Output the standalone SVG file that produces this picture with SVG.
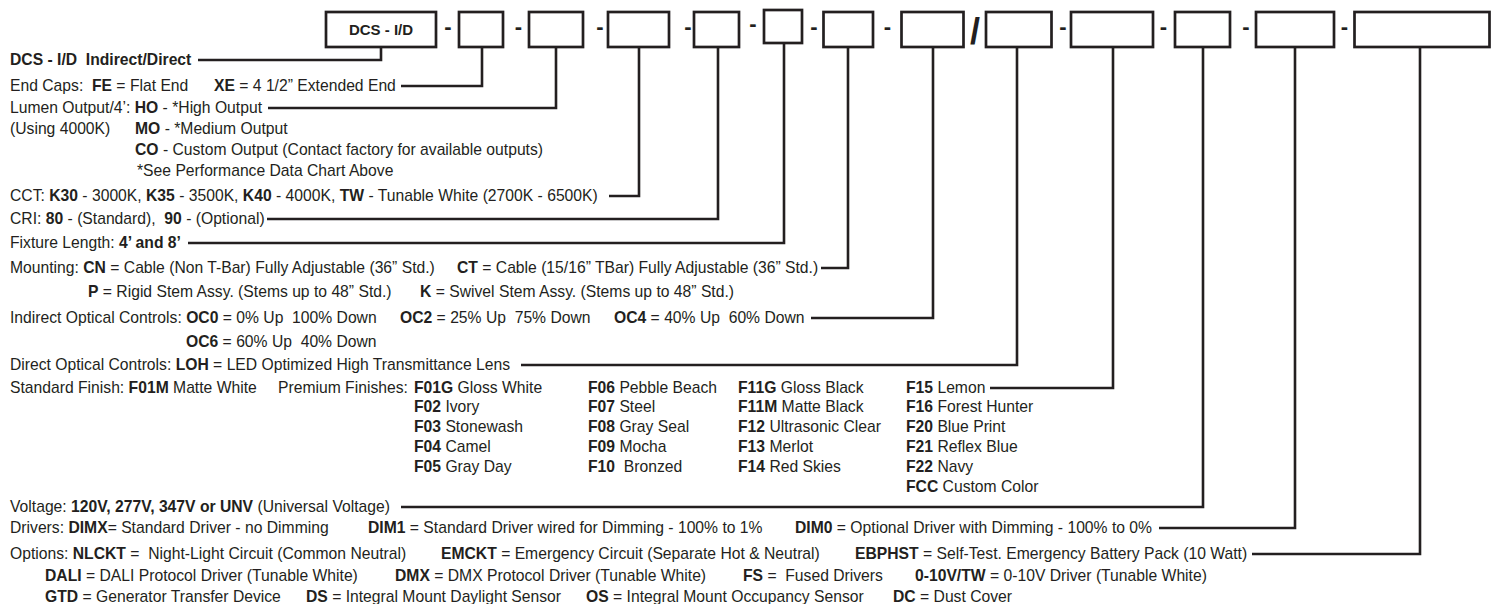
<svg xmlns="http://www.w3.org/2000/svg" width="1495" height="604" viewBox="0 0 1495 604">
<style>
text{font-family:"Liberation Sans",Arial,Helvetica,sans-serif;font-size:15.7px;fill:#231f20;white-space:pre}
.b{font-weight:bold}
.box{fill:#fff;stroke:#231f20;stroke-width:2.7}
.c{fill:none;stroke:#231f20;stroke-width:2.6}
.sep{font-family:"Liberation Sans",Arial,sans-serif;font-weight:bold;font-size:22px;text-anchor:middle}
.lbl{font-weight:bold;font-size:15px;text-anchor:middle}
</style>
<rect width="1495" height="604" fill="#fff"/>
<g id="code-boxes">
<g id="box1"><rect class="box" x="326" y="12" width="110" height="35"/><text class="lbl" x="381" y="34.5">DCS - I/D</text></g>
<g id="box2"><rect class="box" x="459" y="12" width="44" height="35"/></g>
<g id="box3"><rect class="box" x="529" y="12" width="54" height="35"/></g>
<g id="box4"><rect class="box" x="608" y="12" width="61" height="35"/></g>
<g id="box5"><rect class="box" x="694" y="12" width="45" height="35"/></g>
<g id="box6"><rect class="box" x="764" y="10" width="38" height="33"/></g>
<g id="box7"><rect class="box" x="823.5" y="12" width="49.5" height="35"/></g>
<g id="box8"><rect class="box" x="901.5" y="12" width="62" height="35"/></g>
<g id="box9"><rect class="box" x="986" y="12" width="65.5" height="35"/></g>
<g id="box10"><rect class="box" x="1071" y="12" width="82" height="35"/></g>
<g id="box11"><rect class="box" x="1175" y="12" width="55" height="35"/></g>
<g id="box12"><rect class="box" x="1256" y="12" width="78" height="35"/></g>
<g id="box13"><rect class="box" x="1354.5" y="12" width="135" height="35"/></g>
</g>
<g id="separators">
<text class="sep" x="448" y="34">-</text>
<text class="sep" x="518.5" y="34">-</text>
<text class="sep" x="600" y="34">-</text>
<text class="sep" x="688" y="34">-</text>
<text class="sep" x="753" y="31">-</text>
<text class="sep" x="814" y="34">-</text>
<text class="sep" x="887.5" y="34">-</text>
<text class="sep" x="975" y="44" style="font-size:36px">/</text>
<text class="sep" x="1063" y="34">-</text>
<text class="sep" x="1163.5" y="34">-</text>
<text class="sep" x="1246" y="34">-</text>
<text class="sep" x="1344.5" y="34">-</text>
</g>
<g id="connectors">
<polyline class="c" points="198,60 381,60 381,47"/>
<polyline class="c" points="401,86 482,86 482,47"/>
<polyline class="c" points="268,108 556,108 556,47"/>
<polyline class="c" points="609,196 639,196 639,47"/>
<polyline class="c" points="267,219 718,219 718,47"/>
<polyline class="c" points="188,243 784,243 784,43"/>
<polyline class="c" points="821,268 848,268 848,47"/>
<polyline class="c" points="811,318 933,318 933,47"/>
<polyline class="c" points="521,365 1017,365 1017,47"/>
<polyline class="c" points="990,388 1113,388 1113,47"/>
<polyline class="c" points="401,507 1203,507 1203,47"/>
<polyline class="c" points="1159,528 1295,528 1295,47"/>
<polyline class="c" points="1252,554 1420,554 1420,47"/>
</g>
<g id="legend-series"><text class="b" x="10" y="65">DCS - I/D  Indirect/Direct</text></g>
<g id="legend-endcaps"><text x="10" y="91">End Caps:  <tspan class="b">FE</tspan> = Flat End</text><text x="214" y="91"><tspan class="b">XE</tspan> = 4 1/2” Extended End</text></g>
<g id="legend-lumen">
<text x="10" y="113">Lumen Output/4’: <tspan class="b">HO</tspan> - *High Output</text>
<text x="10" y="134">(Using 4000K)</text>
<text x="135" y="134"><tspan class="b">MO</tspan> - *Medium Output</text>
<text x="135" y="155"><tspan class="b">CO</tspan> - Custom Output (Contact factory for available outputs)</text>
<text x="137" y="176">*See Performance Data Chart Above</text>
</g>
<g id="legend-cct"><text x="10" y="201">CCT: <tspan class="b">K30</tspan> - 3000K, <tspan class="b">K35</tspan> - 3500K, <tspan class="b">K40</tspan> - 4000K, <tspan class="b">TW</tspan> - Tunable White (2700K - 6500K)</text></g>
<g id="legend-cri"><text x="10" y="224">CRI: <tspan class="b">80</tspan> - (Standard),  <tspan class="b">90</tspan> - (Optional)</text></g>
<g id="legend-length"><text x="10" y="248">Fixture Length: <tspan class="b">4’ and 8’</tspan></text></g>
<g id="legend-mounting">
<text x="10" y="273">Mounting: <tspan class="b">CN</tspan> = Cable (Non T-Bar) Fully Adjustable (36” Std.)</text>
<text x="457" y="273"><tspan class="b">CT</tspan> = Cable (15/16” TBar) Fully Adjustable (36” Std.)</text>
<text x="88" y="297"><tspan class="b">P</tspan> = Rigid Stem Assy. (Stems up to 48” Std.)</text>
<text x="420" y="297"><tspan class="b">K</tspan> = Swivel Stem Assy. (Stems up to 48” Std.)</text>
</g>
<g id="legend-indirect">
<text x="10" y="323">Indirect Optical Controls: <tspan class="b">OC0</tspan> = 0% Up  100% Down</text>
<text x="400" y="323"><tspan class="b">OC2</tspan> = 25% Up  75% Down</text>
<text x="614" y="323"><tspan class="b">OC4</tspan> = 40% Up  60% Down</text>
<text x="186" y="347"><tspan class="b">OC6</tspan> = 60% Up  40% Down</text>
</g>
<g id="legend-direct"><text x="10" y="370">Direct Optical Controls: <tspan class="b">LOH</tspan> = LED Optimized High Transmittance Lens</text></g>
<g id="legend-finish">
<text x="10" y="393">Standard Finish: <tspan class="b">F01M</tspan> Matte White</text>
<text x="278" y="393">Premium Finishes:</text>
<text x="414" y="393"><tspan class="b">F01G</tspan> Gloss White</text>
<text x="414" y="412"><tspan class="b">F02</tspan> Ivory</text>
<text x="414" y="432"><tspan class="b">F03</tspan> Stonewash</text>
<text x="414" y="452"><tspan class="b">F04</tspan> Camel</text>
<text x="414" y="472"><tspan class="b">F05</tspan> Gray Day</text>
<text x="588" y="393"><tspan class="b">F06</tspan> Pebble Beach</text>
<text x="588" y="412"><tspan class="b">F07</tspan> Steel</text>
<text x="588" y="432"><tspan class="b">F08</tspan> Gray Seal</text>
<text x="588" y="452"><tspan class="b">F09</tspan> Mocha</text>
<text x="588" y="472"><tspan class="b">F10</tspan>  Bronzed</text>
<text x="738" y="393"><tspan class="b">F11G</tspan> Gloss Black</text>
<text x="738" y="412"><tspan class="b">F11M</tspan> Matte Black</text>
<text x="738" y="432"><tspan class="b">F12</tspan> Ultrasonic Clear</text>
<text x="738" y="452"><tspan class="b">F13</tspan> Merlot</text>
<text x="738" y="472"><tspan class="b">F14</tspan> Red Skies</text>
<text x="906" y="393"><tspan class="b">F15</tspan> Lemon</text>
<text x="906" y="412"><tspan class="b">F16</tspan> Forest Hunter</text>
<text x="906" y="432"><tspan class="b">F20</tspan> Blue Print</text>
<text x="906" y="452"><tspan class="b">F21</tspan> Reflex Blue</text>
<text x="906" y="472"><tspan class="b">F22</tspan> Navy</text>
<text x="906" y="492"><tspan class="b">FCC</tspan> Custom Color</text>
</g>
<g id="legend-voltage"><text x="10" y="512">Voltage: <tspan class="b">120V, 277V, 347V or UNV</tspan> (Universal Voltage)</text></g>
<g id="legend-drivers">
<text x="10" y="533">Drivers: <tspan class="b">DIMX</tspan>= Standard Driver - no Dimming</text>
<text x="368" y="533"><tspan class="b">DIM1</tspan> = Standard Driver wired for Dimming - 100% to 1%</text>
<text x="795" y="533"><tspan class="b">DIM0</tspan> = Optional Driver with Dimming - 100% to 0%</text>
</g>
<g id="legend-options">
<text x="10" y="559">Options: <tspan class="b">NLCKT</tspan> =  Night-Light Circuit (Common Neutral)</text>
<text x="441" y="559"><tspan class="b">EMCKT</tspan> = Emergency Circuit (Separate Hot &amp; Neutral)</text>
<text x="855" y="559"><tspan class="b">EBPHST</tspan> = Self-Test. Emergency Battery Pack (10 Watt)</text>
<text x="45" y="581"><tspan class="b">DALI</tspan> = DALI Protocol Driver (Tunable White)</text>
<text x="395" y="581"><tspan class="b">DMX</tspan> = DMX Protocol Driver (Tunable White)</text>
<text x="743" y="581"><tspan class="b">FS</tspan> =  Fused Drivers</text>
<text x="915" y="581"><tspan class="b">0-10V/TW</tspan> = 0-10V Driver (Tunable White)</text>
<text x="45" y="602"><tspan class="b">GTD</tspan> = Generator Transfer Device</text>
<text x="306" y="602"><tspan class="b">DS</tspan> = Integral Mount Daylight Sensor</text>
<text x="586" y="602"><tspan class="b">OS</tspan> = Integral Mount Occupancy Sensor</text>
<text x="893" y="602"><tspan class="b">DC</tspan> = Dust Cover</text>
</g>
</svg>
